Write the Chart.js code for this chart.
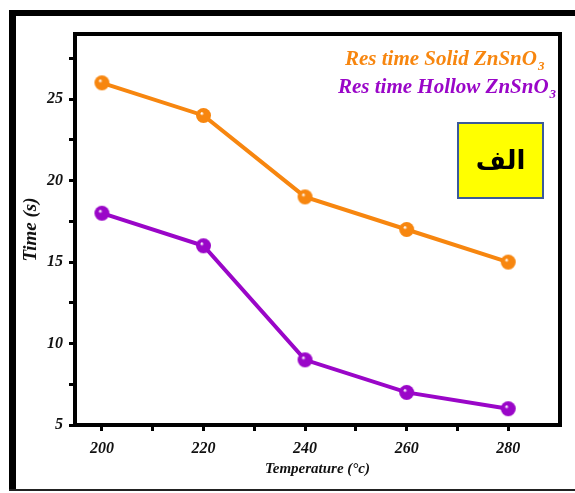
<!DOCTYPE html>
<html>
<head>
<meta charset="utf-8">
<script src="https://cdn.jsdelivr.net/npm/chart.js@4/dist/chart.umd.min.js"></script>
<style>
  html, body { margin: 0; padding: 0; background: #ffffff; }
  canvas { display: block; }
</style>
</head>
<body>
<canvas id="chart" width="575" height="493"></canvas>
<script>
// Response time of ZnSnO3 sensors versus operating temperature
const temperatures = [200, 220, 240, 260, 280];
const solidTimes = [26, 24, 19, 17, 15];
const hollowTimes = [18, 16, 9, 7, 6];

const xTickValues = [200, 210, 220, 230, 240, 250, 260, 270, 280];
const yTickValues = [5, 7.5, 10, 12.5, 15, 17.5, 20, 22.5, 25, 27.5];

const seriesLabels = ['Res time Solid ZnSnO', 'Res time Hollow ZnSnO'];
const seriesSubscript = '3';
const panelTag = 'الف';

const ORANGE = '#f7860f';
const PURPLE = '#9a06c8';
const SERIF = "'Liberation Serif', 'Times New Roman', serif";

// Shaded ball marker
function makeBall(color, r) {
  const size = r * 2 + 2;
  const c = document.createElement('canvas');
  c.width = size; c.height = size;
  const g = c.getContext('2d');
  const cx = size / 2, cy = size / 2;
  const grad = g.createRadialGradient(cx - r * 0.25, cy - r * 0.3, 0.5, cx, cy, r);
  grad.addColorStop(0, '#ffffff');
  grad.addColorStop(0.22, color);
  grad.addColorStop(1, color);
  g.fillStyle = grad;
  g.beginPath();
  g.arc(cx, cy, r, 0, Math.PI * 2);
  g.fill();
  return c;
}

const toPoints = (xs, ys) => xs.map((x, i) => ({ x: x, y: ys[i] }));

const framePlugin = {
  id: 'frames',
  beforeDraw(chart) {
    const ctx = chart.ctx;
    ctx.save();
    ctx.fillStyle = '#ffffff';
    ctx.fillRect(0, 0, chart.width, chart.height);
    // outer picture border
    ctx.fillStyle = '#000000';
    ctx.fillRect(9, 10, 7, 481);
    ctx.fillRect(9, 10, chart.width - 9, 6);
    ctx.fillStyle = '#222222';
    ctx.fillRect(9, 489, chart.width - 9, 2);
    ctx.restore();
  },
  afterDraw(chart) {
    const ctx = chart.ctx;
    const a = chart.chartArea;
    ctx.save();
    // top and right sides of plot frame
    ctx.strokeStyle = '#000000';
    ctx.lineWidth = 4;
    ctx.beginPath();
    ctx.moveTo(a.left - 2, a.top);
    ctx.lineTo(a.right, a.top);
    ctx.lineTo(a.right, a.bottom + 2);
    ctx.stroke();

    // series key
    const keyRows = [
      { text: seriesLabels[0], color: ORANGE, x: 345, y: 65 },
      { text: seriesLabels[1], color: PURPLE, x: 338, y: 93 }
    ];
    ctx.textBaseline = 'alphabetic';
    ctx.textAlign = 'left';
    keyRows.forEach(r => {
      ctx.fillStyle = r.color;
      ctx.font = 'italic bold 21px ' + SERIF;
      ctx.fillText(r.text, r.x, r.y);
      const w = ctx.measureText(r.text).width;
      ctx.font = 'italic bold 13px ' + SERIF;
      ctx.fillText(seriesSubscript, r.x + w + 1, r.y + 5);
    });

    // panel tag box
    ctx.fillStyle = '#ffff00';
    ctx.fillRect(458, 123, 85, 75);
    ctx.strokeStyle = '#3b5a9a';
    ctx.lineWidth = 2;
    ctx.strokeRect(458, 123, 85, 75);
    ctx.fillStyle = '#000000';
    ctx.font = "bold 26px 'DejaVu Sans', sans-serif";
    ctx.textAlign = 'center';
    ctx.textBaseline = 'middle';
    ctx.fillText(panelTag, 500.5, 162);
    ctx.restore();
  }
};

const tickFont = { family: SERIF, size: 16, weight: 'bold', style: 'italic' };

new Chart(document.getElementById('chart'), {
  type: 'line',
  data: {
    datasets: [
      {
        label: seriesLabels[0] + seriesSubscript,
        data: toPoints(temperatures, solidTimes),
        borderColor: ORANGE,
        backgroundColor: ORANGE,
        borderWidth: 4,
        pointStyle: makeBall(ORANGE, 7.5),
        tension: 0
      },
      {
        label: seriesLabels[1] + seriesSubscript,
        data: toPoints(temperatures, hollowTimes),
        borderColor: PURPLE,
        backgroundColor: PURPLE,
        borderWidth: 4,
        pointStyle: makeBall(PURPLE, 7.5),
        tension: 0
      }
    ]
  },
  options: {
    responsive: false,
    animation: false,
    events: [],
    layout: { padding: { left: 0, right: 15, top: 34, bottom: 0 } },
    plugins: {
      legend: { display: false },
      tooltip: { enabled: false }
    },
    scales: {
      x: {
        type: 'linear',
        min: 194.7,
        max: 290.2,
        afterBuildTicks(scale) { scale.ticks = xTickValues.map(v => ({ value: v })); },
        afterFit(scale) { scale.height = 68; },
        border: { display: true, color: '#000000', width: 4 },
        grid: {
          drawOnChartArea: false,
          drawTicks: true,
          tickLength: 6,
          tickColor: '#000000',
          tickWidth: 3,
          tickBorderDash: ctx => (ctx.tick && ctx.tick.value % 20 === 0 ? [] : [4, 20])
        },
        ticks: {
          autoSkip: false,
          maxRotation: 0,
          padding: 8,
          color: '#111111',
          font: tickFont,
          callback: v => (v % 20 === 0 ? String(v) : '')
        },
        title: {
          display: true,
          text: 'Temperature (°c)',
          color: '#111111',
          font: { family: SERIF, size: 15, weight: 'bold', style: 'italic' },
          padding: { top: 15, bottom: 15 }
        }
      },
      y: {
        type: 'linear',
        min: 5,
        max: 29,
        afterBuildTicks(scale) { scale.ticks = yTickValues.map(v => ({ value: v })); },
        afterFit(scale) { scale.width = 75; },
        border: { display: true, color: '#000000', width: 4 },
        grid: {
          drawOnChartArea: false,
          drawTicks: true,
          tickLength: 6,
          tickColor: '#000000',
          tickWidth: 3,
          tickBorderDash: ctx => (ctx.tick && ctx.tick.value % 5 === 0 ? [] : [4, 20])
        },
        ticks: {
          autoSkip: false,
          padding: 6,
          color: '#111111',
          font: tickFont,
          callback: v => (v % 5 === 0 ? String(v) : '')
        },
        title: {
          display: true,
          text: 'Time (s)',
          color: '#111111',
          font: { family: SERIF, size: 19, weight: 'bold', style: 'italic' },
          padding: { top: 20, bottom: 20 }
        }
      }
    }
  },
  plugins: [framePlugin]
});
</script>
</body>
</html>
